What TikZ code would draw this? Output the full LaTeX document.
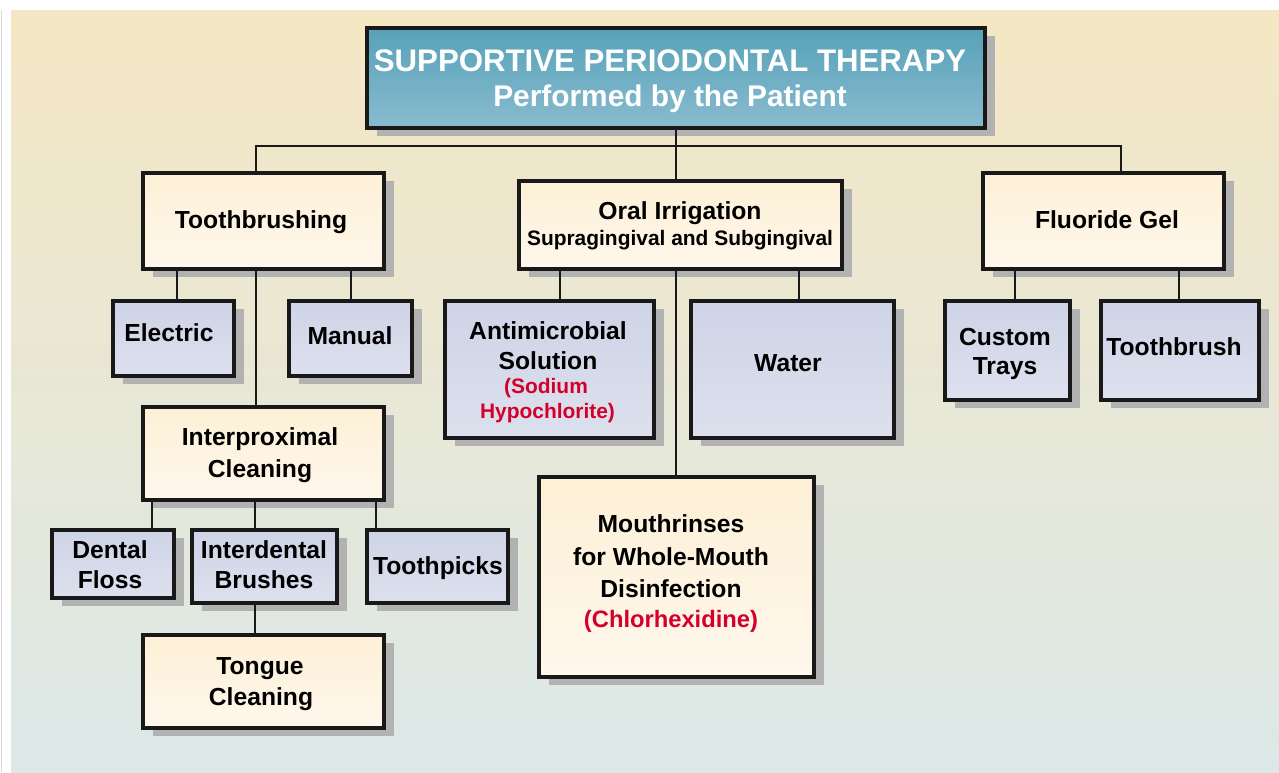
\documentclass[tikz,border=0pt]{standalone}
\usepackage{fontspec}
\setmainfont{Liberation Sans}
\usetikzlibrary{fit,shadows}
\definecolor{bgtop}{HTML}{F4E7C3}
\definecolor{bgbot}{HTML}{DCE8E8}
\definecolor{crtop}{HTML}{FDF0D6}
\definecolor{crbot}{HTML}{FEF7EC}
\definecolor{bltop}{HTML}{CED3E6}
\definecolor{blbot}{HTML}{DDE1EE}
\definecolor{titop}{HTML}{56A2B8}
\definecolor{tibot}{HTML}{8ABBCF}
\definecolor{redc}{HTML}{D4002A}
\definecolor{shd}{HTML}{B2B2B2}
\begin{document}
\begin{tikzpicture}[x=0.75pt,y=-0.75pt,
  box/.style={inner sep=0pt, draw=black!90, line width=2.3pt,
    drop shadow={shadow xshift=7.5pt, shadow yshift=-6pt, opacity=1, fill=shd}},
  cream/.style={box, top color=crtop, bottom color=crbot},
  bluebox/.style={box, top color=bltop, bottom color=blbot},
  ttl/.style={box, top color=titop, bottom color=tibot},
  tx/.style={anchor=base, inner sep=0pt, font=\fontsize{18.5}{22}\selectfont\bfseries},
  txs/.style={anchor=base, inner sep=0pt, font=\fontsize{15.7}{19}\selectfont\bfseries},
  rd/.style={text=redc},
  conn/.style={line width=2pt, draw=black!90}]
\useasboundingbox (0,0) rectangle (1279,772);
\shade[top color=bgtop, bottom color=bgbot] (11,10) rectangle (1279,772);
\draw[black!15, line width=0.6pt] (1,10) -- (1,772);

% boxes
\node[ttl, fit={(367,28)(985,128)}] (title) {};
\node[cream, fit={(143,173)(384,269)}] (tb) {};
\node[cream, fit={(519,181)(842,269)}] (oi) {};
\node[cream, fit={(983,173)(1224,269)}] (fg) {};
\node[bluebox, fit={(113,301)(234,376)}] (el) {};
\node[bluebox, fit={(289,301)(412,376)}] (ma) {};
\node[cream, fit={(143,407)(384,500)}] (ip) {};
\node[bluebox, fit={(52,530)(174,598)}] (df) {};
\node[bluebox, fit={(192,530)(337,603)}] (ib) {};
\node[bluebox, fit={(367,530)(508,603)}] (tp) {};
\node[cream, fit={(143,635)(384,728)}] (tc) {};
\node[bluebox, fit={(445,301)(654,438)}] (am) {};
\node[bluebox, fit={(691,301)(894,438)}] (wa) {};
\node[cream, fit={(539,477)(814,677)}] (mr) {};
\node[bluebox, fit={(945,301)(1070,400)}] (ct) {};
\node[bluebox, fit={(1101,301)(1259,400)}] (tbr) {};

% connectors
\coordinate (xa) at (256,146);
\coordinate (xb) at (1121,146);
\coordinate (x1) at (177,0);
\coordinate (x2) at (351,0);
\coordinate (x3) at (152,0);
\coordinate (x4) at (255,0);
\coordinate (x5) at (376,0);
\coordinate (x6) at (560,0);
\coordinate (x7) at (799,0);
\coordinate (x8) at (1015,0);
\coordinate (x9) at (1179,0);
\draw[conn] (xa |- tb.north) -- (xa) -- (xb) -- (xb |- fg.north);
\draw[conn] (title.south) -- (title.south |- oi.north);
\draw[conn] (xa |- tb.south) -- (xa |- ip.north);
\draw[conn] (x1 |- tb.south) -- (x1 |- el.north);
\draw[conn] (x2 |- tb.south) -- (x2 |- ma.north);
\draw[conn] (x3 |- ip.south) -- (x3 |- df.north);
\draw[conn] (x4 |- ip.south) -- (x4 |- ib.north);
\draw[conn] (x5 |- ip.south) -- (x5 |- tp.north);
\draw[conn] (x4 |- ib.south) -- (x4 |- tc.north);
\draw[conn] (x6 |- oi.south) -- (x6 |- am.north);
\draw[conn] (x7 |- oi.south) -- (x7 |- wa.north);
\draw[conn] (title.south |- oi.south) -- (title.south |- mr.north);
\draw[conn] (x8 |- fg.south) -- (x8 |- ct.north);
\draw[conn] (x9 |- fg.south) -- (x9 |- tbr.north);

% texts
\node[tx, text=white, font=\fontsize{23.4}{28}\selectfont\bfseries] (t0a) at (670,71) {SUPPORTIVE PERIODONTAL THERAPY};
\node[tx, text=white, font=\fontsize{22.4}{27}\selectfont\bfseries] (t0b) at (670,106) {Performed by the Patient};
\node[tx] (t1) at (261,228) {Toothbrushing};
\node[tx] (t2a) at (680,219) {Oral Irrigation};
\node[txs] (t2b) at (680,245.5) {Supragingival and Subgingival};
\node[tx] (t3) at (1107,228) {Fluoride Gel};
\node[tx] (t4) at (169,341) {Electric};
\node[tx] (t5) at (350,344) {Manual};
\node[tx] (t6a) at (548,339) {Antimicrobial};
\node[tx] (t6b) at (548,369) {Solution};
\node[txs, rd] (t6c) at (546,393.5) {(Sodium};
\node[txs, rd] (t6d) at (547.5,418.5) {Hypochlorite)};
\node[tx] (t7) at (788,371) {Water};
\node[tx] (t8a) at (1005,345) {Custom};
\node[tx] (t8b) at (1005,374) {Trays};
\node[tx] (t9) at (1174,355) {Toothbrush};
\node[tx] (t10a) at (260,445) {Interproximal};
\node[tx] (t10b) at (260,477) {Cleaning};
\node[tx] (t11a) at (110,558) {Dental};
\node[tx] (t11b) at (110,588) {Floss};
\node[tx] (t12a) at (264,558) {Interdental};
\node[tx] (t12b) at (264,588) {Brushes};
\node[tx] (t13) at (438,574) {Toothpicks};
\node[tx] (t14a) at (260,674) {Tongue};
\node[tx] (t14b) at (261,705) {Cleaning};
\node[tx] (t15a) at (671,532) {Mouthrinses};
\node[tx] (t15b) at (671,565) {for Whole-Mouth};
\node[tx] (t15c) at (671,597) {Disinfection};
\node[tx, rd, font=\fontsize{17.8}{21}\selectfont\bfseries] (t15d) at (671,627) {(Chlorhexidine)};
\end{tikzpicture}
\end{document}
